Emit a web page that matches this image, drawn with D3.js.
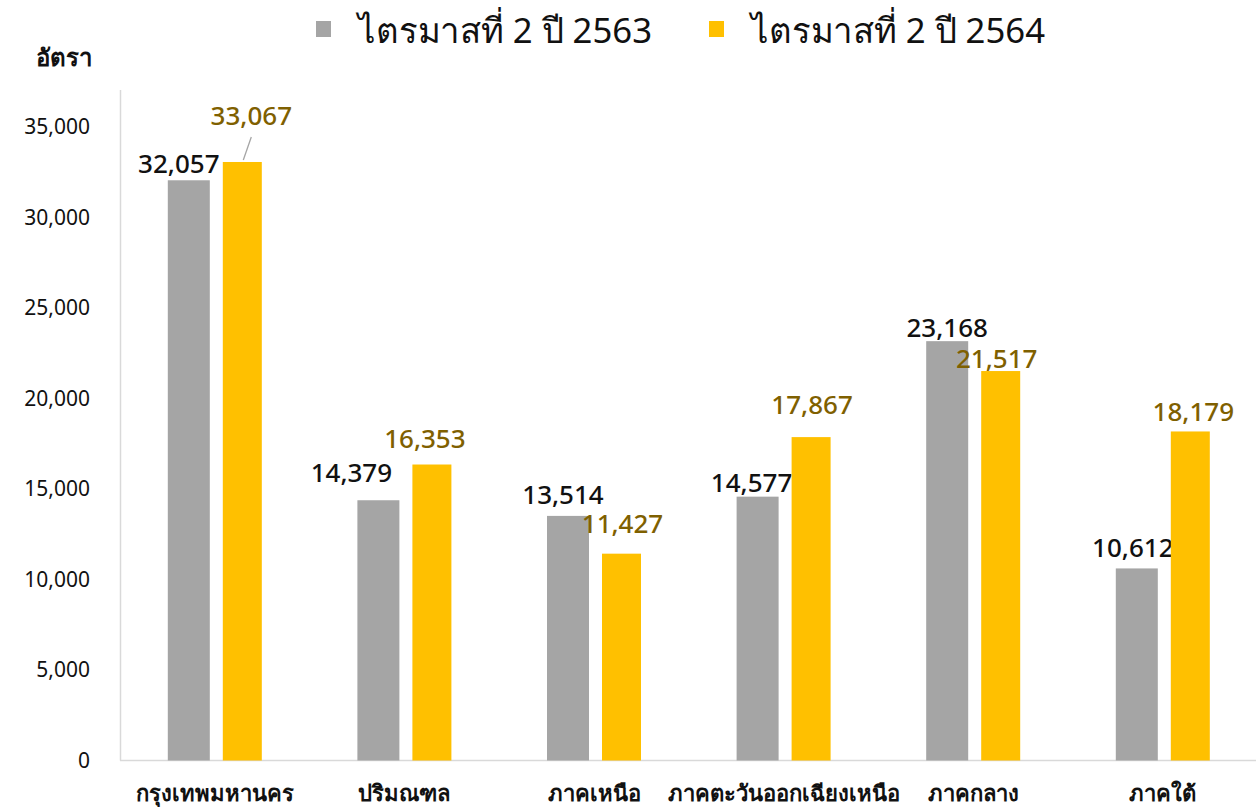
<!DOCTYPE html>
<html>
<head>
<meta charset="utf-8">
<script src="https://cdn.jsdelivr.net/npm/d3@7"></script>
<style>
  html, body { margin: 0; padding: 0; background: #fff; }
  svg { display: block; font-family: "Noto Sans", "Open Sans", sans-serif; }
</style>
</head>
<body>
<svg id="chart" width="1256" height="809"></svg>
<script>
// ---- data ----
const categories = ["กรุงเทพมหานคร", "ปริมณฑล", "ภาคเหนือ", "ภาคตะวันออกเฉียงเหนือ", "ภาคกลาง", "ภาคใต้"];
const seriesNames = ["ไตรมาสที่ 2 ปี 2563", "ไตรมาสที่ 2 ปี 2564"];
const values2563 = [32057, 14379, 13514, 14577, 23168, 10612];
const values2564 = [33067, 16353, 11427, 17867, 21517, 18179];
const yTicks = [0, 5000, 10000, 15000, 20000, 25000, 30000, 35000];
const yAxisTitle = "อัตรา";

// ---- layout (label nudges, px from bar-top centre) ----
const nudge2563 = [[-10, -7], [-27, -18], [-5, -12], [-6, -5], [0, -4], [-4, -11]];
const nudge2564 = [[9, -37], [-7, -17], [1, -21], [1, -23], [-4, -3], [3, -10]];
const colors = ["#a5a5a5", "#ffc000"];
const labelColors = ["#111111", "#7f6000"];

const svg = d3.select("#chart");
const W = 1256, H = 809;
const x0 = d3.scaleBand().domain(categories).range([120, 1257.6]).paddingInner(0).paddingOuter(0);
const y = d3.scaleLinear().domain([0, 35000]).range([760.5, 127]);

// axes lines
svg.append("line").attr("x1", 120.5).attr("x2", 120.5).attr("y1", 90).attr("y2", 760.5)
  .attr("stroke", "#d9d9d9").attr("stroke-width", 1.5);
svg.append("line").attr("x1", 120).attr("x2", W).attr("y1", 760.5).attr("y2", 760.5)
  .attr("stroke", "#d9d9d9").attr("stroke-width", 1.5);

// y axis tick labels
const yAxis = d3.axisLeft(y).tickValues(yTicks).tickSize(0).tickPadding(0)
  .tickFormat(d => d3.format(",")(d));
const yg = svg.append("g").attr("transform", "translate(90,0)").call(yAxis);
yg.select(".domain").remove();
yg.selectAll("text").attr("font-size", 21).attr("fill", "#111")
  .attr("font-family", "'Noto Sans', 'Open Sans', sans-serif");

// y title
svg.append("text").attr("x", 64).attr("y", 66).attr("text-anchor", "middle")
  .attr("font-size", 24).attr("font-weight", "bold").attr("fill", "#111").text(yAxisTitle);

// x axis labels
const xAxis = d3.axisBottom(x0).tickSize(0).tickPadding(0);
const xg = svg.append("g").attr("transform", "translate(0,785)").call(xAxis);
xg.select(".domain").remove();
xg.selectAll("text").attr("font-size", 22).attr("font-weight", "bold").attr("fill", "#111")
  .attr("font-family", "'Noto Sans', 'Open Sans', sans-serif");

// bars
const barW = [42, 39];
const barOff = [-47, 8];
const seriesVals = [values2563, values2564];
const nudges = [nudge2563, nudge2564];
seriesVals.forEach((vals, s) => {
  const g = svg.append("g");
  g.selectAll("rect").data(vals).join("rect")
    .attr("x", (d, i) => x0(categories[i]) + x0.bandwidth() / 2 + barOff[s])
    .attr("width", barW[s])
    .attr("y", d => y(d))
    .attr("height", d => y(0) - y(d))
    .attr("fill", colors[s]);
  g.selectAll("text").data(vals).join("text")
    .attr("x", (d, i) => x0(categories[i]) + x0.bandwidth() / 2 + barOff[s] + barW[s] / 2 + nudges[s][i][0])
    .attr("y", (d, i) => y(d) + nudges[s][i][1])
    .attr("text-anchor", "middle")
    .attr("font-size", 26)
    .attr("font-weight", 500)
    .attr("fill", labelColors[s])
    .text(d => d3.format(",")(d));
});

// leader line for first yellow label
{
  const cx = x0(categories[0]) + x0.bandwidth() / 2 + barOff[1] + barW[1] / 2;
  svg.append("line").attr("x1", cx + 9).attr("y1", y(values2564[0]) - 25)
    .attr("x2", cx + 1).attr("y2", y(values2564[0]) - 2)
    .attr("stroke", "#a5a5a5").attr("stroke-width", 1.3);
}

// legend
const legendItems = [{x: 316, name: seriesNames[0], c: colors[0]}, {x: 709, name: seriesNames[1], c: colors[1]}];
const lg = svg.append("g");
legendItems.forEach(it => {
  lg.append("rect").attr("x", it.x).attr("y", 21).attr("width", 15).attr("height", 16).attr("fill", it.c);
  lg.append("text").attr("x", it.x + 42).attr("y", 43).attr("font-size", 35)
    .attr("textLength", 294).attr("lengthAdjust", "spacingAndGlyphs")
    .attr("fill", "#111").text(it.name);
});
</script>
</body>
</html>
